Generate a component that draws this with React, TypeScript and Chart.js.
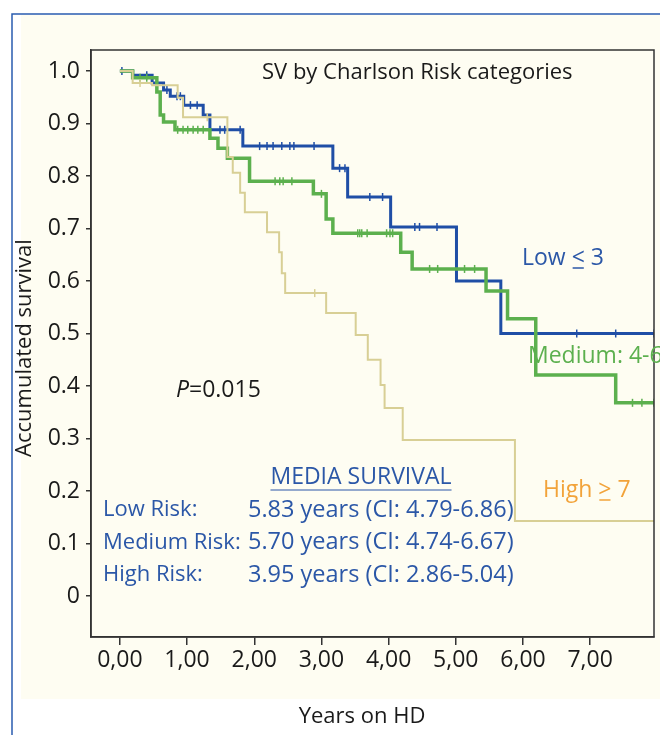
import React, { useEffect, useRef } from "react";
import { Chart, registerables } from "chart.js";

Chart.register(...registerables);

// Kaplan-Meier step data (years, survival)
const lowTimes = [0, 0.19, 0.48, 0.65, 0.75, 0.95, 1.24, 1.34, 1.83, 3.17, 3.39, 4.03, 5.01, 5.67, 7.95];
const lowSurv = [1.0, 0.992, 0.977, 0.964, 0.952, 0.935, 0.916, 0.888, 0.857, 0.815, 0.76, 0.703, 0.6, 0.5, 0.5];
const lowCensor = [0.03, 0.4, 0.55, 0.7, 0.85, 0.9, 1.05, 1.15, 1.49, 1.56, 1.79, 2.08, 2.19, 2.28, 2.41, 2.53, 2.59, 2.89, 3.27, 3.35, 3.72, 3.91, 4.39, 4.46, 4.72, 6.8, 7.38, 7.95];

const medTimes = [0, 0.19, 0.55, 0.6, 0.65, 0.82, 1.34, 1.46, 1.6, 1.93, 2.88, 3.07, 3.17, 4.18, 4.35, 5.45, 5.77, 6.19, 7.38, 7.95];
const medSurv = [1.0, 0.987, 0.96, 0.916, 0.903, 0.888, 0.872, 0.853, 0.834, 0.79, 0.766, 0.718, 0.691, 0.655, 0.623, 0.581, 0.528, 0.421, 0.368, 0.368];
const medCensor = [0.3, 0.4, 0.86, 0.94, 1.01, 1.09, 1.16, 1.24, 2.31, 2.38, 2.43, 2.56, 3.0, 3.54, 3.57, 3.6, 3.68, 3.97, 4.02, 4.06, 4.61, 4.73, 5.13, 5.28, 7.63, 7.77, 7.95];

const highTimes = [0, 0.19, 0.48, 0.86, 0.94, 1.6, 1.68, 1.79, 1.86, 2.19, 2.37, 2.41, 2.46, 3.07, 3.51, 3.69, 3.88, 3.94, 4.21, 5.88, 7.95];
const highSurv = [1.0, 0.977, 0.973, 0.949, 0.912, 0.836, 0.806, 0.768, 0.731, 0.693, 0.655, 0.615, 0.577, 0.539, 0.497, 0.45, 0.402, 0.358, 0.297, 0.143, 0.143];
const highCensor = [0.3, 1.3, 2.9];

const xTicks = [0, 1, 2, 3, 4, 5, 6, 7];
const yTicks = [0, 0.1, 0.2, 0.3, 0.4, 0.5, 0.6, 0.7, 0.8, 0.9, 1.0];

const medianLabels = ["Low Risk:", "Medium Risk:", "High Risk:"];
const medianValues = [
  "5.83 years (CI: 4.79-6.86)",
  "5.70 years (CI: 4.74-6.67)",
  "3.95 years (CI: 2.86-5.04)",
];

const BLUE = "#1f4ea6";
const GREEN = "#5cb04e";
const TAN = "#d8cf95";
const TEXT_BLUE = "#2b57a7";
const ORANGE = "#f2a33a";
const CREAM = "#fefdf2";
const FONT = "'Open Sans', 'Noto Sans', sans-serif";

function stepAt(times: number[], surv: number[], t: number) {
  let v = surv[0];
  for (let i = 0; i < times.length; i++) {
    if (times[i] <= t) v = surv[i];
  }
  return v;
}

function toPts(times: number[], surv: number[]) {
  return times.map((t, i) => ({ x: t, y: surv[i] }));
}

function censorPts(times: number[], surv: number[], cens: number[]) {
  return cens.map((t) => ({ x: t, y: stepAt(times, surv, t) }));
}

// draws "pre <sym> post" where sym is underlined (≤ / ≥ look)
function drawUnderlinedSym(ctx: any, pre: string, sym: string, post: string, x: number, y: number, color: string) {
  ctx.fillStyle = color;
  ctx.textAlign = "left";
  ctx.fillText(pre, x, y);
  const w1 = ctx.measureText(pre).width;
  ctx.fillText(sym, x + w1, y);
  const w2 = ctx.measureText(sym).width;
  ctx.strokeStyle = color;
  ctx.lineWidth = 1.5;
  ctx.beginPath();
  ctx.moveTo(x + w1 + 1, y + 10);
  ctx.lineTo(x + w1 + w2 - 1, y + 10);
  ctx.stroke();
  ctx.fillText(post, x + w1 + w2, y);
}

const decor = {
  id: "decor",
  beforeDraw(chart: any) {
    const ctx = chart.ctx;
    ctx.save();
    ctx.fillStyle = "#ffffff";
    ctx.fillRect(0, 0, chart.width, chart.height);
    ctx.fillStyle = CREAM;
    ctx.fillRect(21, 15, chart.width - 21, 684);
    ctx.strokeStyle = "#2a5cb0";
    ctx.lineWidth = 1.5;
    ctx.beginPath();
    ctx.moveTo(12, 735);
    ctx.lineTo(12, 14);
    ctx.lineTo(660, 14);
    ctx.stroke();
    ctx.restore();
  },
  afterDraw(chart: any) {
    const ctx = chart.ctx;
    const a = chart.chartArea;
    ctx.save();
    ctx.strokeStyle = "#333";
    ctx.lineWidth = 1.5;
    ctx.strokeRect(a.left, a.top, a.right - a.left, a.bottom - a.top);

    ctx.textBaseline = "middle";
    ctx.font = `22px ${FONT}`;
    ctx.fillStyle = "#1a1a1a";
    ctx.textAlign = "left";
    ctx.fillText("SV by Charlson Risk categories", 262, 73);

    // P value
    ctx.font = `italic 23px ${FONT}`;
    ctx.fillText("P", 176, 390);
    const pw = ctx.measureText("P").width;
    ctx.font = `23px ${FONT}`;
    ctx.fillText("=0.015", 176 + pw, 390);

    // curve labels
    drawUnderlinedSym(ctx, "Low ", "<", " 3", 522, 258, TEXT_BLUE);
    ctx.fillStyle = GREEN;
    ctx.fillText("Medium: 4-6", 528, 356);
    drawUnderlinedSym(ctx, "High ", ">", " 7", 543, 490, ORANGE);

    // median survival block
    ctx.fillStyle = TEXT_BLUE;
    ctx.textAlign = "center";
    ctx.fillText("MEDIA SURVIVAL", 361, 477);
    const mw = ctx.measureText("MEDIA SURVIVAL").width;
    ctx.strokeStyle = TEXT_BLUE;
    ctx.lineWidth = 1.2;
    ctx.beginPath();
    ctx.moveTo(361 - mw / 2, 490);
    ctx.lineTo(361 + mw / 2, 490);
    ctx.stroke();
    ctx.textAlign = "left";
    medianLabels.forEach((lab, i) => {
      ctx.font = `22px ${FONT}`;
      ctx.fillText(lab, 103, 510 + i * 32.5);
      ctx.font = `23.5px ${FONT}`;
      ctx.fillText(medianValues[i], 248, 510 + i * 32.5);
    });

    // axis titles
    ctx.font = `22px ${FONT}`;
    ctx.fillStyle = "#1a1a1a";
    ctx.textAlign = "center";
    ctx.fillText("Years on HD", 362, 717);
    ctx.translate(25, 348);
    ctx.rotate(-Math.PI / 2);
    ctx.fillText("Accumulated survival", 0, 0);
    ctx.restore();
  },
};

export default function App() {
  const ref = useRef<HTMLCanvasElement | null>(null);
  useEffect(() => {
    if (!ref.current) return;
    const mk = (label: string, t: number[], s: number[], color: string, w: number) => ({
      type: "line" as const,
      label,
      data: toPts(t, s),
      stepped: true,
      borderColor: color,
      borderWidth: w,
      pointRadius: 0,
      fill: false,
    });
    const mc = (label: string, t: number[], s: number[], c: number[], color: string, w: number) => ({
      type: "scatter" as const,
      label,
      data: censorPts(t, s, c),
      showLine: false,
      pointStyle: "line",
      rotation: 90,
      pointRadius: 4,
      borderColor: color,
      borderWidth: w,
      backgroundColor: color,
    });
    const chart = new Chart(ref.current, {
      type: "line",
      data: {
        datasets: [
          mk("High", highTimes, highSurv, TAN, 2),
          mc("High censored", highTimes, highSurv, highCensor, TAN, 1.5),
          mk("Medium", medTimes, medSurv, GREEN, 3.5),
          mc("Medium censored", medTimes, medSurv, medCensor, GREEN, 1.5),
          mk("Low", lowTimes, lowSurv, BLUE, 3),
          mc("Low censored", lowTimes, lowSurv, lowCensor, BLUE, 1.5),
        ] as any,
      },
      options: {
        responsive: false,
        animation: false,
        devicePixelRatio: 1,
        layout: { padding: { top: 50, right: 6, left: 0, bottom: 0 } },
        plugins: { legend: { display: false }, tooltip: { enabled: false } },
        scales: {
          x: {
            type: "linear",
            min: -0.43,
            max: 7.95,
            afterBuildTicks: (s: any) => {
              s.ticks = xTicks.map((v) => ({ value: v }));
            },
            afterFit: (s: any) => {
              s.height = 98;
            },
            ticks: {
              callback: (v: any) => Number(v).toFixed(2).replace(".", ","),
              color: "#1a1a1a",
              font: { family: FONT, size: 23 },
              padding: 2,
              maxRotation: 0,
              autoSkip: false,
            },
            grid: { drawOnChartArea: false, drawTicks: true, tickLength: 8, color: "#333", lineWidth: 1.5 },
            border: { display: true, color: "#333", width: 1.5 },
          },
          y: {
            type: "linear",
            min: -0.078,
            max: 1.04,
            afterBuildTicks: (s: any) => {
              s.ticks = yTicks.map((v) => ({ value: v }));
            },
            afterFit: (s: any) => {
              s.width = 91;
            },
            ticks: {
              callback: (v: any) => (Number(v) === 0 ? "0" : Number(v).toFixed(1)),
              color: "#1a1a1a",
              font: { family: FONT, size: 23 },
              padding: 6,
              autoSkip: false,
            },
            grid: { drawOnChartArea: false, drawTicks: true, tickLength: 5, color: "#333", lineWidth: 1.5 },
            border: { display: true, color: "#333", width: 1.5 },
          },
        },
      },
      plugins: [decor],
    } as any);
    return () => chart.destroy();
  }, []);
  return (
    <div style={{ position: "absolute", left: 0, top: 0, width: 660, height: 735 }}>
      <canvas ref={ref} width={660} height={735} style={{ width: 660, height: 735 }} />
    </div>
  );
}
